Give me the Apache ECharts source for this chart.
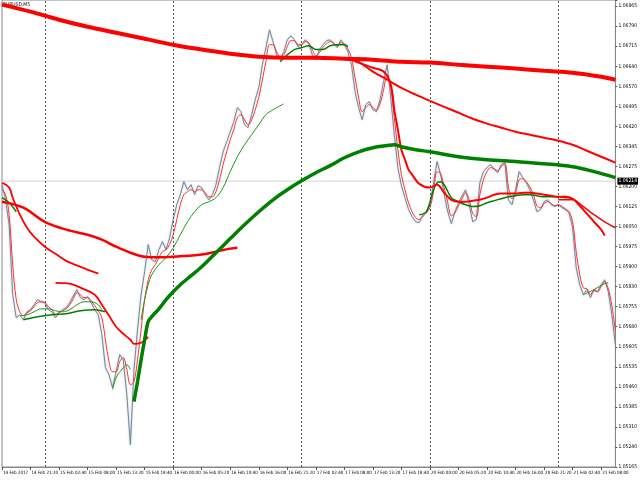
<!DOCTYPE html>
<html><head><meta charset="utf-8">
<script src="https://cdn.jsdelivr.net/npm/echarts@6/dist/echarts.min.js"></script>
<style>html,body{margin:0;padding:0;background:#fff}#c{width:640px;height:480px}</style>
</head><body><div id="c"></div>
<script>
// ---- data ----
const symbolTitle = 'EURUSD,M5';
const firstLabel = '14 Feb 2017';
const barCount = 173; // 40-minute steps from 14 Feb 16:00 (weekend skipped)
const yTickLabels = ['1.05165','1.05240','1.05310','1.05385','1.05460','1.05535','1.05605','1.05680','1.05755','1.05830','1.05900','1.05975','1.06050','1.06125','1.06200','1.06275','1.06345','1.06420','1.06495','1.06570','1.06640','1.06715','1.06790','1.06865'];
const daySeparators = ['15 Feb 00:00','16 Feb 00:00','17 Feb 00:00','20 Feb 00:00','21 Feb 00:00'];
const bidPrice = 1.06214;

const priceValues = [1.06201,1.06145,1.06053,1.05795,1.05710,1.05721,1.05703,1.05732,1.05740,1.05758,
1.05777,1.05769,1.05766,1.05740,1.05732,1.05710,1.05729,1.05740,1.05747,1.05766,
1.05791,1.05814,1.05784,1.05777,1.05788,1.05766,1.05740,1.05721,1.05648,1.05526,
1.05500,1.05452,1.05511,1.05574,1.05555,1.05426,1.05242,1.05519,1.05666,1.05795,
1.05880,1.05980,1.05924,1.05917,1.05961,1.05991,1.05961,1.06005,1.06072,1.06127,
1.06164,1.06212,1.06182,1.06201,1.06164,1.06197,1.06190,1.06164,1.06145,1.06164,
1.06201,1.06264,1.06322,1.06359,1.06396,1.06433,1.06485,1.06470,1.06422,1.06411,
1.06459,1.06514,1.06558,1.06643,1.06706,1.06772,1.06728,1.06680,1.06662,1.06691,
1.06735,1.06750,1.06735,1.06710,1.06717,1.06735,1.06724,1.06680,1.06662,1.06699,
1.06717,1.06732,1.06735,1.06721,1.06706,1.06735,1.06717,1.06691,1.06643,1.06544,
1.06485,1.06440,1.06496,1.06507,1.06477,1.06470,1.06514,1.06581,1.06643,1.06522,
1.06385,1.06264,1.06197,1.06153,1.06109,1.06083,1.06064,1.06061,1.06090,1.06101,
1.06127,1.06208,1.06286,1.06238,1.06164,1.06101,1.06057,1.06101,1.06134,1.06160,
1.06182,1.06127,1.06064,1.06072,1.06208,1.06249,1.06264,1.06275,1.06256,1.06245,
1.06275,1.06282,1.06145,1.06127,1.06182,1.06249,1.06227,1.06208,1.06182,1.06145,
1.06101,1.06109,1.06138,1.06145,1.06127,1.06120,1.06127,1.06116,1.06109,1.06097,
1.06042,1.05895,1.05832,1.05795,1.05814,1.05784,1.05814,1.05806,1.05832,1.05850,
1.05806,1.05721,1.05611];

const fastRedValues = [1.06182,1.06164,1.06090,1.05906,1.05777,1.05732,1.05718,1.05729,1.05736,1.05751,
1.05766,1.05769,1.05766,1.05751,1.05740,1.05721,1.05729,1.05736,1.05743,1.05758,
1.05780,1.05802,1.05795,1.05784,1.05784,1.05773,1.05755,1.05736,1.05710,1.05629,
1.05548,1.05511,1.05511,1.05548,1.05563,1.05519,1.05463,1.05474,1.05555,1.05666,
1.05777,1.05850,1.05887,1.05906,1.05932,1.05954,1.05961,1.05980,1.06016,1.06072,
1.06127,1.06164,1.06175,1.06182,1.06175,1.06182,1.06182,1.06171,1.06156,1.06156,
1.06175,1.06219,1.06275,1.06322,1.06367,1.06404,1.06448,1.06459,1.06440,1.06422,
1.06440,1.06477,1.06522,1.06588,1.06654,1.06717,1.06717,1.06691,1.06673,1.06680,
1.06710,1.06732,1.06732,1.06717,1.06717,1.06728,1.06724,1.06699,1.06676,1.06688,
1.06706,1.06721,1.06728,1.06724,1.06713,1.06724,1.06721,1.06702,1.06669,1.06595,
1.06522,1.06470,1.06485,1.06496,1.06485,1.06477,1.06499,1.06551,1.06606,1.06558,
1.06448,1.06330,1.06238,1.06182,1.06134,1.06101,1.06079,1.06072,1.06083,1.06097,
1.06116,1.06175,1.06249,1.06241,1.06190,1.06134,1.06086,1.06097,1.06123,1.06149,
1.06171,1.06145,1.06094,1.06083,1.06164,1.06219,1.06249,1.06264,1.06260,1.06252,
1.06267,1.06278,1.06193,1.06149,1.06171,1.06219,1.06223,1.06212,1.06193,1.06164,
1.06123,1.06116,1.06131,1.06138,1.06131,1.06123,1.06127,1.06120,1.06112,1.06101,
1.06064,1.05954,1.05869,1.05821,1.05817,1.05795,1.05810,1.05806,1.05825,1.05843,
1.05817,1.05755,1.05659];

// moving averages: [bar index, price]
const maSlowRed = [[0,1.06865],[8,1.06839],[16,1.06809],[24,1.06783],[32,1.06761],[40,1.06739],[48,1.06717],[56,1.06699],[64,1.06684],[72,1.06673],[80,1.06669],[88,1.06669],[96,1.06665],[104,1.06662],[112,1.06654],[120,1.06651],[128,1.06643],[136,1.06636],[144,1.06629],[152,1.06621],[160,1.06614],[168,1.06599],[172,1.06588]];
const maSlowGreen = [[37,1.05401],[38,1.05474],[39,1.05555],[40,1.05629],[41,1.05696],[42,1.05714],[44,1.05743],[46,1.05777],[48,1.05806],[50,1.05832],[52,1.05854],[56,1.05898],[60,1.05950],[64,1.06002],[68,1.06053],[72,1.06101],[76,1.06145],[80,1.06182],[84,1.06215],[88,1.06245],[92,1.06271],[96,1.06300],[100,1.06322],[104,1.06337],[108,1.06345],[110,1.06348],[112,1.06341],[116,1.06330],[120,1.06322],[128,1.06304],[136,1.06293],[144,1.06286],[152,1.06278],[160,1.06267],[166,1.06249],[172,1.06227]];
const maRedLeftA = [[0,1.06138],[6,1.06116],[12,1.06064],[18,1.06035],[24,1.06016],[28,1.05998],[32,1.05972],[36,1.05950],[40,1.05935],[44,1.05933],[48,1.05935],[52,1.05939],[56,1.05943],[60,1.05954],[64,1.05965],[66,1.05968]];
const maRedLeftB = [[0,1.06208],[2,1.06190],[3,1.06153],[5,1.06090],[7,1.06042],[9,1.06009],[12,1.05972],[15,1.05946],[18,1.05920],[22,1.05898],[27,1.05873]];
const maRedLeftC = [[15,1.05839],[19,1.05836],[22,1.05821],[26,1.05795],[28,1.05758],[30,1.05718],[32,1.05677],[34,1.05651],[36,1.05629],[37,1.05614],[39,1.05618],[41,1.05640]];
const maRedRightA = [[97,1.06669],[100,1.06654],[104,1.06618],[108,1.06588],[112,1.06558],[116,1.06533],[120,1.06510],[124,1.06488],[128,1.06466],[132,1.06444],[136,1.06426],[140,1.06411],[144,1.06396],[148,1.06385],[152,1.06374],[156,1.06363],[160,1.06348],[164,1.06326],[168,1.06304],[172,1.06282]];
const maRedRightB = [[97,1.06669],[100,1.06651],[104,1.06632],[107,1.06618],[109,1.06570],[110,1.06477],[111,1.06404],[112,1.06330],[113,1.06293],[114,1.06256],[115,1.06238],[117,1.06204],[120,1.06190],[122,1.06201],[124,1.06171],[126,1.06145],[128,1.06138],[130,1.06138],[132,1.06142],[134,1.06145],[136,1.06153],[138,1.06164],[140,1.06168],[142,1.06168],[144,1.06168],[146,1.06171],[148,1.06171],[150,1.06168],[152,1.06164],[154,1.06160],[156,1.06156],[158,1.06156],[160,1.06149],[162,1.06123],[164,1.06094],[166,1.06064],[168,1.06035],[169,1.06013]];
const maRedRightC = [[156,1.06145],[160,1.06145],[163,1.06120],[166,1.06090],[169,1.06064],[172,1.06042]];
const maGreenRight = [[117,1.06090],[119,1.06101],[121,1.06182],[122,1.06208],[123,1.06212],[124,1.06201],[126,1.06153],[128,1.06138],[130,1.06127],[132,1.06120],[134,1.06123],[136,1.06134],[138,1.06142],[140,1.06149],[142,1.06156],[144,1.06160],[146,1.06164],[148,1.06164],[150,1.06160],[152,1.06156],[154,1.06156],[156,1.06156],[158,1.06153],[160,1.06149],[162,1.06127]];
const maGreenTop = [[78,1.06654],[80,1.06680],[82,1.06699],[84,1.06706],[86,1.06713],[88,1.06699],[90,1.06699],[92,1.06713],[94,1.06717],[96,1.06717],[97,1.06710]];
const maGreenEnd = [[163,1.05795],[166,1.05814],[169,1.05836],[170,1.05839]];
const maGreenMid = [[39,1.05703],[40,1.05777],[41,1.05832],[42,1.05869],[44,1.05906],[46,1.05932],[48,1.05968],[50,1.06016],[52,1.06064],[54,1.06101],[56,1.06127],[58,1.06138],[60,1.06153],[62,1.06190],[64,1.06249],[66,1.06304],[68,1.06348],[70,1.06385],[72,1.06422],[74,1.06459],[76,1.06477],[79,1.06499]];
const maGreenLeftA = [[5,1.05718],[7,1.05721],[9,1.05732],[11,1.05743],[13,1.05743],[15,1.05736],[17,1.05732],[19,1.05740],[21,1.05758],[23,1.05769],[25,1.05769],[27,1.05758],[28,1.05740]];
const maGreenLeftB = [[6,1.05703],[10,1.05714],[14,1.05721],[18,1.05725],[22,1.05736],[26,1.05740],[29,1.05732]];
const maGreenLow = [[31,1.05445],[32,1.05489],[34,1.05526],[35,1.05537],[36,1.05519]];
const maGreenStart = [[0,1.06153],[2,1.06134],[4,1.06101]];

// ---- categories (bar times) ----
function pad(n){return (n<10?'0':'')+n;}
const bars = [];
(function(){
  let day = 14, m = 16*60;
  for (let i = 0; i < barCount; i++) {
    bars.push(day + ' Feb ' + pad(Math.floor(m/60)) + ':' + pad(m%60));
    m += 40;
    if (m >= 1440) { m -= 1440; day += 1; if (day === 18) day = 20; }
  }
})();

const yStep = 0.000739;
const yMin = 1423 * yStep;   // 1.051597
const yMax = 1.068819;
const FONT = "'Liberation Sans Narrow','DejaVu Sans Condensed','Liberation Sans',sans-serif";
const RED = '#ff0000', GREEN = '#008000';

function ma(data, color, width, z) {
  return {type:'line', data:data, showSymbol:false, symbol:'none', smooth:0.35, z:z||3,
    lineStyle:{color:color, width:width}, silent:true, animation:false};
}

const chart = echarts.init(document.getElementById('c'), null, {renderer:'canvas'});
chart.setOption({
  animation:false,
  backgroundColor:'#ffffff',
  graphic:[{type:'text', left:3, top:2, z:0, style:{text:symbolTitle, fontSize:5, fontFamily:FONT, fill:'#000'}}],
  grid:{left:1, right:20, top:0, bottom:13, show:true, borderColor:'#888', borderWidth:1},
  xAxis:{type:'category', data:bars, boundaryGap:false,
    axisLine:{lineStyle:{color:'#888'}},
    axisTick:{show:true, interval:7, length:3, lineStyle:{color:'#555'}},
    axisLabel:{interval:7, fontSize:4.5, fontFamily:FONT, color:'#000', align:'left', margin:3, padding:[0,0,0,1],
      formatter:function(v, idx){ return idx===0 ? firstLabel : v; }},
    splitLine:{show:false}},
  yAxis:{type:'value', position:'right', min:yMin, max:yMax, interval:yStep, scale:true,
    axisLine:{show:true, lineStyle:{color:'#888'}},
    axisTick:{show:true, length:2, lineStyle:{color:'#555'}},
    splitLine:{show:false},
    axisLabel:{fontSize:5, fontFamily:FONT, color:'#000', margin:3, showMaxLabel:true,
      formatter:function(v){ const k=(v-yMin)/yStep; const r=Math.round(k); return Math.abs(k-r)<0.02 ? (yTickLabels[r]||'') : ''; }}},
  series:[
    {type:'line', data:[[0,bidPrice],[barCount-1,bidPrice]], showSymbol:false, symbol:'none', z:1, silent:true, animation:false,
      lineStyle:{color:'#d4d4d4', width:1},
      endLabel:{show:true, formatter:String(bidPrice), color:'#fff', backgroundColor:'#000', fontSize:5, fontFamily:FONT, padding:[1,1], distance:2}},
    {type:'line', data:priceValues, showSymbol:false, symbol:'none', z:2, animation:false,
      lineStyle:{color:'#76869b', width:1, shadowColor:'rgba(130,140,160,0.6)', shadowBlur:2},
      markLine:{silent:true, symbol:'none', animation:false,
        data:daySeparators.map(d=>({xAxis:d, lineStyle:{color:'#555', type:[2,2], width:1}, label:{show:false}}))}},
    ma(fastRedValues, '#ff3030', 1, 4),
    ma(maGreenStart, GREEN, 1.5, 4),
    ma(maGreenLeftA, '#1a9a1a', 1, 4),
    ma(maGreenLeftB, GREEN, 1.5, 4),
    ma(maGreenLow, '#1a9a1a', 1, 4),
    ma(maGreenMid, '#1a9a1a', 1, 4),
    ma(maGreenTop, GREEN, 1.5, 4),
    ma(maGreenRight, GREEN, 1.5, 4),
    ma(maGreenEnd, '#1a9a1a', 1, 4),
    ma(maRedLeftB, RED, 1.8, 5),
    ma(maRedLeftC, RED, 1.8, 5),
    ma(maRedLeftA, RED, 2.5, 5),
    ma(maRedRightB, RED, 2, 5),
    ma(maRedRightC, RED, 1.5, 5),
    ma(maRedRightA, RED, 2, 5),
    ma(maSlowGreen, GREEN, 3.5, 6),
    ma(maSlowRed, RED, 4, 6)
  ]
});
</script></body></html>
